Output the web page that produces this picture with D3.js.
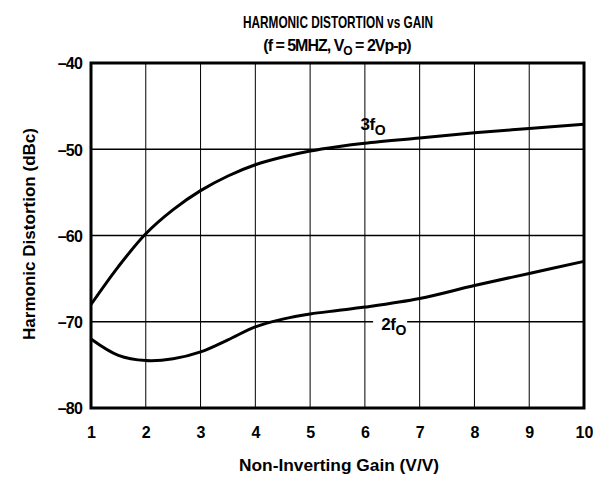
<!DOCTYPE html>
<html>
<head>
  <style>
    body { margin: 0; background: #fff; }
    text { font-family: "Liberation Sans", Arial, sans-serif; fill: #000; }
    .grid line { stroke: #000; }
    .tick text { font-weight: bold; font-size: 16px; }
  </style>
</head>
<body>
  <script src="https://d3js.org/d3.v7.min.js"></script>
  <script>
    var width = 593, height = 478;
    var margin = {top: 63, right: 9, bottom: 70, left: 91};

    // values
    var gain = [1, 1.5, 2, 2.5, 3, 3.5, 4, 4.5, 5, 5.5, 6, 7, 8, 9, 10];
    var third = [-68, -63.6, -59.8, -57, -54.8, -53.1, -51.8, -50.9, -50.2, -49.7, -49.3, -48.7, -48.1, -47.6, -47.1];
    var second = [-72, -73.9, -74.5, -74.3, -73.5, -72.1, -70.6, -69.7, -69.1, -68.7, -68.3, -67.3, -65.8, -64.4, -63];
    var xTicks = [1, 2, 3, 4, 5, 6, 7, 8, 9, 10];
    var yTicks = [-80, -70, -60, -50, -40];

    var svg = d3.select("body").append("svg")
        .attr("width", width)
        .attr("height", height);

    var x = d3.scaleLinear().domain([1, 10]).range([margin.left, width - margin.right]);
    var y = d3.scaleLinear().domain([-80, -40]).range([height - margin.bottom, margin.top]);

    // vertical grid
    svg.append("g").attr("class", "grid")
      .selectAll("line").data(xTicks.slice(1, -1)).enter().append("line")
        .attr("x1", d => x(d)).attr("x2", d => x(d))
        .attr("y1", y(-40)).attr("y2", y(-80))
        .attr("stroke-width", 1);

    // horizontal grid
    svg.append("g").attr("class", "grid")
      .selectAll("line").data(yTicks.slice(1, -1)).enter().append("line")
        .attr("x1", x(1)).attr("x2", x(10))
        .attr("y1", d => y(d)).attr("y2", d => y(d))
        .attr("stroke-width", 1.5);

    // axes (labels only)
    var xAxis = svg.append("g")
        .attr("transform", "translate(0," + (height - margin.bottom) + ")")
        .call(d3.axisBottom(x).tickValues(xTicks).tickSize(0).tickPadding(19).tickFormat(d3.format("d")));
    xAxis.select(".domain").remove();

    var yAxis = svg.append("g")
        .attr("transform", "translate(" + margin.left + ",0)")
        .call(d3.axisLeft(y).tickValues(yTicks).tickSize(0).tickPadding(9)
          .tickFormat(d => "\u2013" + Math.abs(d)));
    yAxis.select(".domain").remove();
    yAxis.selectAll(".tick text").attr("dy", "0.36em").attr("letter-spacing", -0.8);

    var line = d3.line()
        .x((d, i) => x(gain[i]))
        .y(d => y(d))
        .curve(d3.curveCatmullRom.alpha(0.5));

    [third, second].forEach(function(s) {
      svg.append("path")
          .datum(s)
          .attr("fill", "none")
          .attr("stroke", "#000")
          .attr("stroke-width", 3)
          .attr("d", line);
    });

    // 2fo label with white background breaking the gridline
    svg.append("rect")
        .attr("x", x(6.15)).attr("y", y(-69.2))
        .attr("width", 34).attr("height", 22)
        .attr("fill", "#fff");

    function curveLabel(px, py, main) {
      var t = svg.append("text")
          .attr("x", px).attr("y", py)
          .attr("font-size", 17).attr("font-weight", "bold")
          .attr("letter-spacing", -0.5);
      t.append("tspan").text(main);
      t.append("tspan").attr("font-size", 14).attr("dy", 5).text("O");
    }
    curveLabel(x(5.92), y(-47.75), "3f");
    curveLabel(x(6.3), y(-70.9), "2f");

    // frame
    svg.append("rect")
        .attr("x", x(1)).attr("y", y(-40))
        .attr("width", x(10) - x(1))
        .attr("height", y(-80) - y(-40))
        .attr("fill", "none")
        .attr("stroke", "#000")
        .attr("stroke-width", 3);

    // titles
    svg.append("text")
        .attr("x", 338).attr("y", 28)
        .attr("text-anchor", "middle")
        .attr("font-size", 17).attr("font-weight", "bold")
        .attr("textLength", 190).attr("lengthAdjust", "spacingAndGlyphs")
        .text("HARMONIC DISTORTION vs GAIN");

    var sub = svg.append("text")
        .attr("x", 337).attr("y", 51)
        .attr("text-anchor", "middle")
        .attr("font-size", 16).attr("font-weight", "bold")
        .attr("letter-spacing", -1);
    sub.append("tspan").text("(f = 5MHZ, V");
    sub.append("tspan").attr("font-size", 12).attr("dy", 4).text("O");
    sub.append("tspan").attr("dy", -4).text(" = 2Vp-p)");

    svg.append("text")
        .attr("x", 339).attr("y", 471)
        .attr("text-anchor", "middle")
        .attr("font-size", 16).attr("font-weight", "bold")
        .attr("textLength", 200).attr("lengthAdjust", "spacingAndGlyphs")
        .text("Non-Inverting Gain (V/V)");

    svg.append("text")
        .attr("transform", "translate(35,234) rotate(-90)")
        .attr("text-anchor", "middle")
        .attr("font-size", 16).attr("font-weight", "bold")
        .attr("textLength", 212).attr("lengthAdjust", "spacingAndGlyphs")
        .text("Harmonic Distortion (dBc)");
  </script>
</body>
</html>
